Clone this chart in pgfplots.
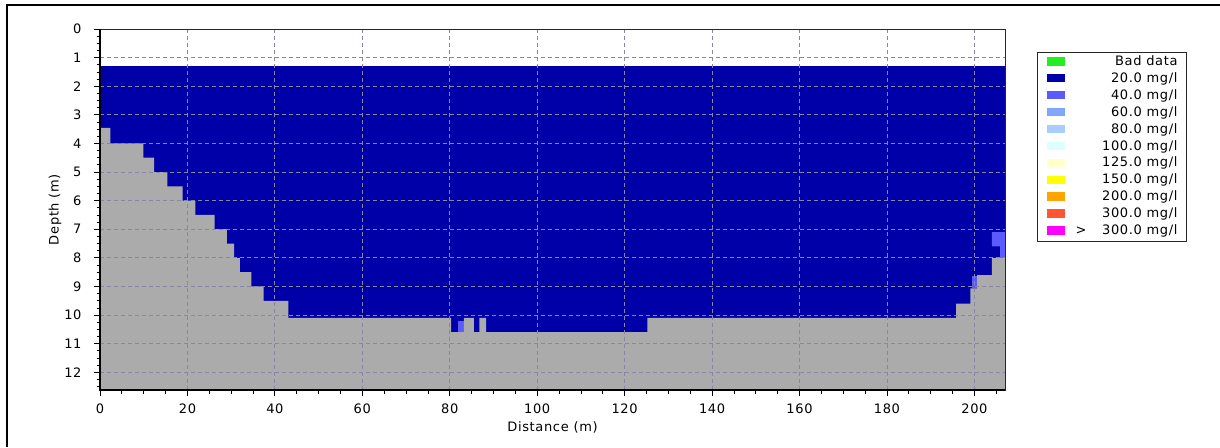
\documentclass[border=0pt]{standalone}
\usepackage{pgfplots}
\pgfplotsset{compat=1.18}
\usepackage{fontspec}
\setmainfont{DejaVu Sans}[LetterSpace=5]
\definecolor{c20}{RGB}{0,0,168}
\definecolor{c40}{RGB}{90,90,255}
\definecolor{bed}{RGB}{171,171,171}
\definecolor{bad}{RGB}{34,238,34}
\definecolor{c60}{RGB}{128,166,255}
\definecolor{c80}{RGB}{170,204,255}
\definecolor{c100}{RGB}{221,255,255}
\definecolor{c125}{RGB}{255,255,204}
\definecolor{c150}{RGB}{255,255,0}
\definecolor{c200}{RGB}{255,165,0}
\definecolor{c300}{RGB}{255,85,51}
\definecolor{cmax}{RGB}{255,0,255}
\definecolor{gridc}{RGB}{135,135,165}
\newcommand{\lfont}{\fontsize{13}{15}\selectfont}
\begin{document}
\begin{tikzpicture}
\useasboundingbox (0pt,0pt) rectangle (1220pt,447pt);
\draw[line width=2pt] (7pt,0pt) -- (7pt,441.5pt) -- (1220pt,441.5pt);
\begin{axis}[
  at={(100pt,57pt)}, anchor=south west,
  scale only axis, width=905pt, height=361pt,
  xmin=0, xmax=207, ymin=0, ymax=12.62, y dir=reverse,
  xtick={0,20,...,200}, ytick={0,1,...,12},
  minor xtick={0,5,...,205}, minor ytick={0,0.25,...,12.5},
  xtick pos=left, ytick pos=left,
  tick align=outside, major tick length=6pt, minor tick length=3.5pt,
  tick style={black, line width=0.8pt},
  grid=major,
  major grid style={dash pattern=on 4pt off 3pt, color=gridc, line width=0.8pt},
  axis on top,
  axis line style={line width=1pt, black!85},
  tick label style={font=\lfont},
  xticklabel style={yshift=-4pt},
  yticklabel style={xshift=-9pt},
  /pgf/number format/assume math mode=true,
  xlabel={Distance (m)}, ylabel={Depth (m)},
  label style={font=\lfont},
  xlabel style={at={(axis description cs:0.5,-0.104)}, anchor=center},
  ylabel style={at={(axis description cs:-0.0497,0.5)}, anchor=center},
  legend image code/.code={\fill[#1, draw=none] (0pt,-3.0pt) rectangle (18.5pt,5.3pt);},
  legend style={at={(axis description cs:1.0354,0.9363)}, anchor=north west,
    draw=black!85, line width=1pt, fill=white, font=\lfont,
    inner xsep=9pt, inner ysep=4.5pt, row sep=5.9pt, column sep=8.5pt,
    nodes={inner sep=0pt, text height=8.5pt, text depth=2.5pt}},
  after end axis/.code={
    \draw[line width=2.5pt, black] (axis description cs:0,1) -- (axis description cs:0,0) -- (axis description cs:1,0);
  },
]
% water body (20 mg/l)
\addplot[forget plot, fill=c20, draw=none] coordinates {
  (0,1.29) (207,1.29) (207,12.62) (0,12.62)} -- cycle;
% 40 mg/l patches
\addplot[forget plot, fill=c40, draw=none] coordinates {
  (81.8,10.2) (83.2,10.2) (83.2,10.6) (81.8,10.6)} -- cycle;
\addplot[forget plot, fill=c40, draw=none] coordinates {
  (199.5,8.64) (200.6,8.64) (200.6,9.07) (199.5,9.07)} -- cycle;
\addplot[forget plot, fill=c40, draw=none] coordinates {
  (204.0,7.1) (207,7.1) (207,8.0) (205.9,8.0) (205.9,7.6) (204.0,7.6)} -- cycle;
% river bed
\addplot[forget plot, fill=bed, draw=none] coordinates {
  (0,12.62) (0,3.46) (2.4,3.46) (2.4,4.0) (9.9,4.0) (9.9,4.5) (12.4,4.5)
  (12.4,5.0) (15.4,5.0) (15.4,5.5) (18.9,5.5) (18.9,6.0) (21.8,6.0)
  (21.8,6.5) (26.2,6.5) (26.2,7.0) (29.0,7.0) (29.0,7.5) (30.7,7.5)
  (30.7,8.0) (32.0,8.0) (32.0,8.5) (34.6,8.5) (34.6,9.0) (37.4,9.0)
  (37.4,9.5) (43.1,9.5) (43.1,10.1) (80.3,10.1) (80.3,10.6) (83.2,10.6)
  (83.2,10.1) (85.5,10.1) (85.5,10.6) (86.8,10.6) (86.8,10.1) (88.3,10.1)
  (88.3,10.6) (125.2,10.6) (125.2,10.1) (195.8,10.1) (195.8,9.6)
  (199.1,9.6) (199.1,9.07) (200.6,9.07) (200.6,8.6) (204.0,8.6)
  (204.0,8.0) (207,8.0) (207,12.62)} -- cycle;
% legend
\addlegendimage{fill=bad}\addlegendentry{\makebox[104pt][r]{Bad data}}
\addlegendimage{fill=c20}\addlegendentry{\makebox[104pt][r]{20.0 mg/l}}
\addlegendimage{fill=c40}\addlegendentry{\makebox[104pt][r]{40.0 mg/l}}
\addlegendimage{fill=c60}\addlegendentry{\makebox[104pt][r]{60.0 mg/l}}
\addlegendimage{fill=c80}\addlegendentry{\makebox[104pt][r]{80.0 mg/l}}
\addlegendimage{fill=c100}\addlegendentry{\makebox[104pt][r]{100.0 mg/l}}
\addlegendimage{fill=c125}\addlegendentry{\makebox[104pt][r]{125.0 mg/l}}
\addlegendimage{fill=c150}\addlegendentry{\makebox[104pt][r]{150.0 mg/l}}
\addlegendimage{fill=c200}\addlegendentry{\makebox[104pt][r]{200.0 mg/l}}
\addlegendimage{fill=c300}\addlegendentry{\makebox[104pt][r]{300.0 mg/l}}
\addlegendimage{fill=cmax}\addlegendentry{\makebox[104pt][s]{\,>\hfill 300.0 mg/l}}
\end{axis}
\end{tikzpicture}
\end{document}
